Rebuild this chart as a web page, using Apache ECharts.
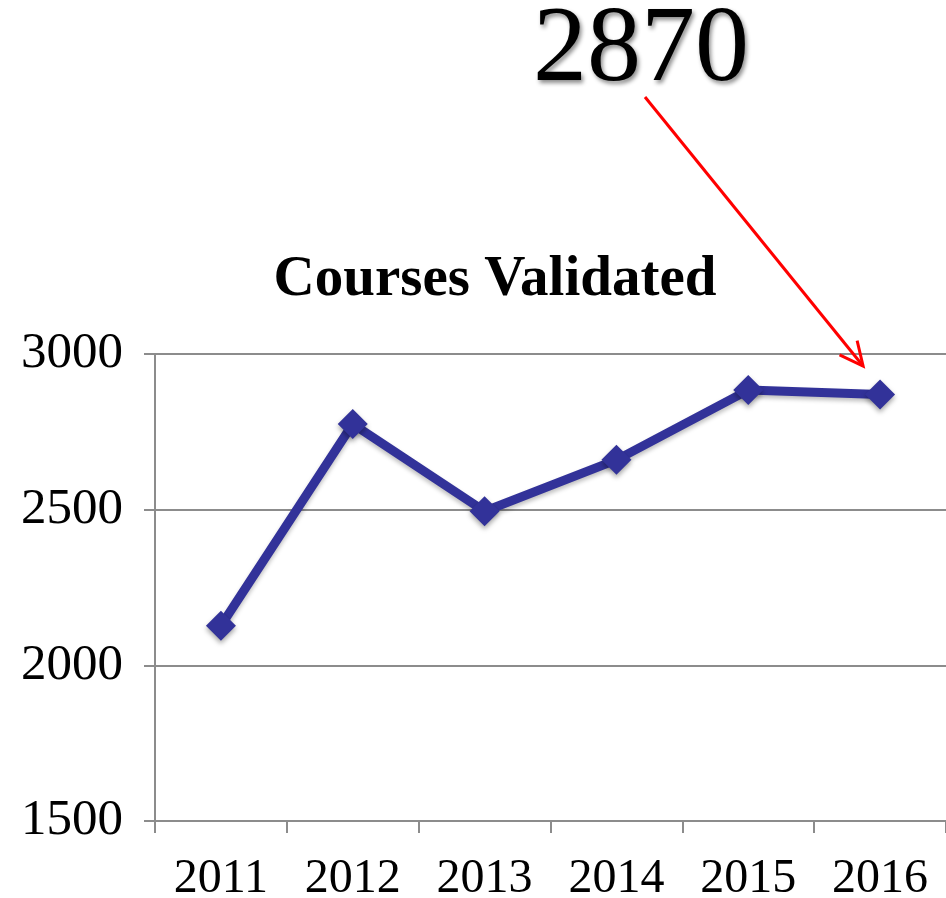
<!DOCTYPE html>
<html lang="en">
<head>
    <meta charset="UTF-8">
    <script src="https://cdn.jsdelivr.net/npm/echarts@6/dist/echarts.min.js"></script>
    <title>Courses Validated</title>
    <style>
        html, body { margin: 0; padding: 0; background: #fff; }
    </style>
</head>
<body>
    <div id="main" style="width: 946px;height:898px;"></div>

    <script type="text/javascript">
        // data
        var years = ['2011', '2012', '2013', '2014', '2015', '2016'];
        var courses = [2127, 2775, 2495, 2660, 2884, 2870];
        var yTicks = [1500, 2000, 2500, 3000];
        var callout = '2870';

        var serif = '"Liberation Serif", "Times New Roman", serif';
        var myChart = echarts.init(document.getElementById('main'));

        var option = {
            backgroundColor: '#fff',
            animation: false,
            title: {
                text: 'Courses Validated',
                left: 490,
                top: 247,
                textAlign: 'center',
                textStyle: {
                    fontFamily: serif,
                    fontWeight: 'bold',
                    fontSize: 57,
                    color: '#000'
                }
            },
            grid: {
                left: 155,
                top: 354,
                right: 0,
                height: 467,
                outerBoundsMode: 'none',
                containLabel: false
            },
            xAxis: {
                type: 'category',
                data: years,
                boundaryGap: true,
                axisLine: { lineStyle: { color: '#8c8c8c', width: 2 } },
                axisTick: { show: true, length: 12, lineStyle: { color: '#8c8c8c', width: 2 } },
                axisLabel: {
                    margin: 34,
                    fontFamily: serif,
                    fontSize: 48,
                    color: '#000'
                }
            },
            yAxis: {
                type: 'value',
                min: yTicks[0],
                max: yTicks[yTicks.length - 1],
                interval: 500,
                axisLine: { show: true, lineStyle: { color: '#8c8c8c', width: 2 } },
                axisTick: { show: true, length: 11, lineStyle: { color: '#8c8c8c', width: 2 } },
                splitLine: { lineStyle: { color: '#8c8c8c', width: 2 } },
                axisLabel: {
                    margin: 32,
                    fontFamily: serif,
                    fontSize: 51,
                    color: '#000',
                    formatter: function (v) { return String(v); }
                }
            },
            series: [{
                type: 'line',
                data: courses,
                symbol: 'diamond',
                symbolSize: 30,
                lineStyle: {
                    color: '#323299',
                    width: 9,
                    shadowColor: 'rgba(0,0,0,0.25)',
                    shadowBlur: 4,
                    shadowOffsetY: 3
                },
                itemStyle: {
                    color: '#323299',
                    shadowColor: 'rgba(0,0,0,0.35)',
                    shadowBlur: 5,
                    shadowOffsetY: 3
                }
            }]
        };
        myChart.setOption(option);

        // callout text + red arrow pointing at the last point
        var end = myChart.convertToPixel({ gridIndex: 0 }, [years.length - 1, yTicks[yTicks.length - 1]]);
        var tipX = end[0] - 17, tipY = end[1] + 12;
        var fromX = 645, fromY = 97;
        var ang = Math.atan2(tipY - fromY, tipX - fromX);
        var hl = 26, ha = 0.45;

        myChart.setOption({
            graphic: [{
                type: 'text',
                left: 533,
                top: -2,
                style: {
                    text: callout,
                    fontFamily: serif,
                    fontSize: 108,
                    fill: '#000',
                    textShadowColor: 'rgba(0,0,0,0.45)',
                    textShadowBlur: 4,
                    textShadowOffsetX: 2,
                    textShadowOffsetY: 3
                }
            }, {
                type: 'line',
                shape: { x1: fromX, y1: fromY, x2: tipX, y2: tipY },
                style: { stroke: '#ff0000', lineWidth: 3 }
            }, {
                type: 'polyline',
                shape: {
                    points: [
                        [tipX - hl * Math.cos(ang - ha), tipY - hl * Math.sin(ang - ha)],
                        [tipX, tipY],
                        [tipX - hl * Math.cos(ang + ha), tipY - hl * Math.sin(ang + ha)]
                    ]
                },
                style: { stroke: '#ff0000', lineWidth: 3, fill: null }
            }]
        });
    </script>
</body>
</html>
